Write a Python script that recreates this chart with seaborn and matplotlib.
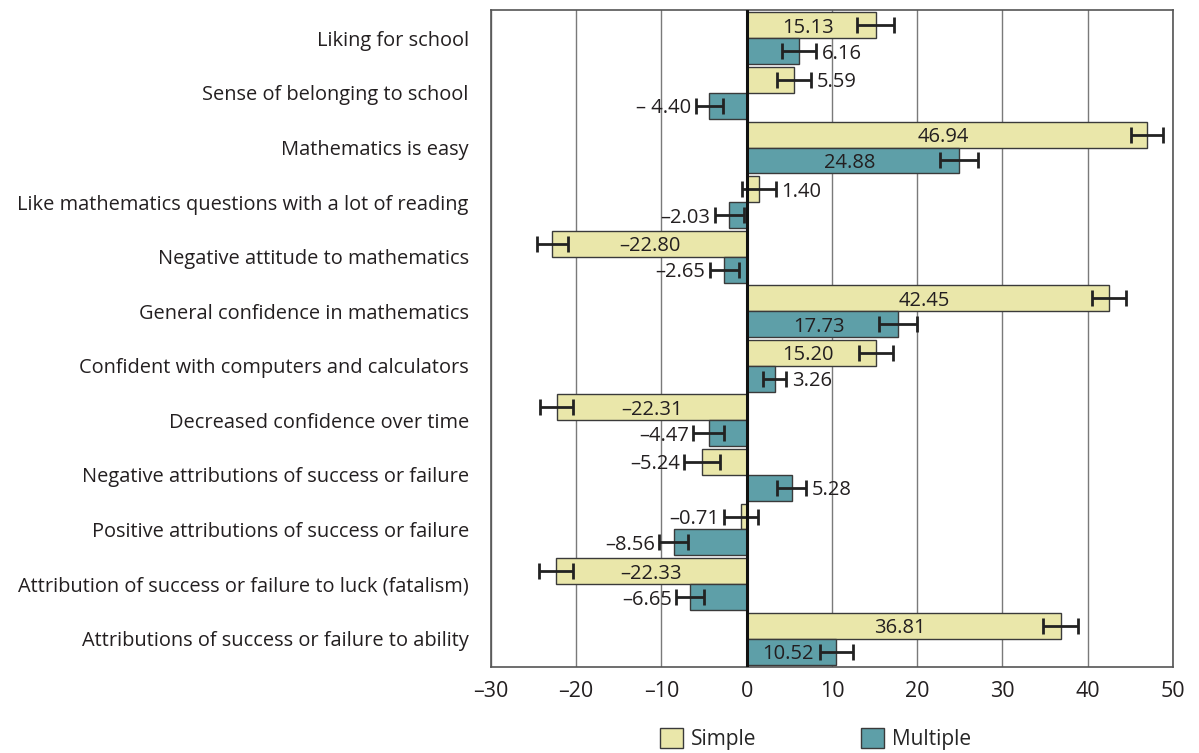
import pandas as pd
import matplotlib
matplotlib.use('Agg')
import matplotlib.pyplot as plt
import seaborn as sns
from matplotlib.patches import Patch


# ==============================
# DATA
# ==============================
CATEGORIES = [
    "Liking for school",
    "Sense of belonging to school",
    "Mathematics is easy",
    "Like mathematics questions with a lot of reading",
    "Negative attitude to mathematics",
    "General confidence in mathematics",
    "Confident with computers and calculators",
    "Decreased confidence over time",
    "Negative attributions of success or failure",
    "Positive attributions of success or failure",
    "Attribution of success or failure to luck (fatalism)",
    "Attributions of success or failure to ability",
]

SIMPLE = [15.13, 5.59, 46.94, 1.40, -22.80, 42.45, 15.20, -22.31, -5.24, -0.71, -22.33, 36.81]
MULTIPLE = [6.16, -4.40, 24.88, -2.03, -2.65, 17.73, 3.26, -4.47, 5.28, -8.56, -6.65, 10.52]

SIMPLE_ERR = [2.2, 2.0, 1.9, 2.0, 1.8, 2.0, 2.0, 1.9, 2.1, 2.0, 2.0, 2.0]
MULTIPLE_ERR = [2.0, 1.6, 2.2, 1.7, 1.7, 2.2, 1.4, 1.8, 1.7, 1.7, 1.6, 1.9]

# label text as printed (en dash for minus)
SIMPLE_TXT = ["15.13", "5.59", "46.94", "1.40", "–22.80", "42.45", "15.20",
              "–22.31", "–5.24", "–0.71", "–22.33", "36.81"]
MULTIPLE_TXT = ["6.16", "– 4.40", "24.88", "–2.03", "–2.65", "17.73", "3.26",
                "–4.47", "5.28", "–8.56", "–6.65", "10.52"]

SERIES = ["Simple", "Multiple"]
X_TICKS = [-30, -20, -10, 0, 10, 20, 30, 40, 50]
X_TICK_LABELS = ["–30", "–20", "–10", "0", "10", "20", "30", "40", "50"]

COLORS = {"Simple": "#EAE7AA", "Multiple": "#5E9FA8"}
EDGE = "#3a3a3a"
TEXT = "#231F20"


# ==============================
# BUILD TABLE
# ==============================
df = pd.DataFrame({
    "category": CATEGORIES * 2,
    "value": SIMPLE + MULTIPLE,
    "err": SIMPLE_ERR + MULTIPLE_ERR,
    "label": SIMPLE_TXT + MULTIPLE_TXT,
    "series": ["Simple"] * len(CATEGORIES) + ["Multiple"] * len(CATEGORIES),
})


# ==============================
# PLOT
# ==============================
sns.set_style("white")
plt.rcParams['font.family'] = ['Open Sans', 'DejaVu Sans']

fig = plt.figure(figsize=(11.99, 7.53), dpi=100)
ax = fig.add_axes([0.4095, 0.1142, 0.9783 - 0.4095, 0.9867 - 0.1142])

sns.barplot(data=df, y="category", x="value", hue="series", hue_order=SERIES,
            orient="h", palette=COLORS, saturation=1, width=0.95, dodge=True,
            edgecolor=EDGE, linewidth=1.0, errorbar=None, legend=False,
            ax=ax, zorder=3)

# error bars and value labels, positions from the drawn bars
for series, container in zip(SERIES, ax.containers):
    sub = df[df["series"] == series].reset_index(drop=True)
    for bar, (_, row) in zip(container.patches, sub.iterrows()):
        yc = bar.get_y() + bar.get_height() / 2
        v, e = row["value"], row["err"]
        ax.errorbar(v, yc, xerr=e, fmt="none", ecolor="#222222",
                    elinewidth=2, capsize=6, capthick=2, zorder=4)
        if abs(v) > 10:
            ax.text(v / 2 - 0.4 * (v > 0), yc, row["label"], ha="center",
                    va="center_baseline", fontsize=14.5, color=TEXT, zorder=5)
        elif v >= 0:
            ax.text(v + e + 0.6, yc, row["label"], ha="left", va="center_baseline",
                    fontsize=14.5, color=TEXT, zorder=5)
        else:
            ax.text(v - e - 0.5, yc, row["label"], ha="right", va="center_baseline",
                    fontsize=14.5, color=TEXT, zorder=5)

ax.set_xlim(-30, 50)
ax.set_ylim(len(CATEGORIES) - 0.5 + 0.02, -0.5 - 0.02)
ax.set_xticks(X_TICKS)
ax.set_xticklabels(X_TICK_LABELS, fontsize=15.5, color=TEXT)
ax.tick_params(axis="x", length=0, pad=10)
ax.tick_params(axis="y", length=0, pad=16, labelsize=14.4, labelcolor=TEXT)
for lbl in ax.get_yticklabels():
    lbl.set_verticalalignment("center_baseline")
ax.set_xlabel("")
ax.set_ylabel("")

ax.grid(axis="x", color="#7a7a7a", linewidth=1.0, zorder=0)
ax.grid(axis="y", visible=False)
ax.axvline(0, color="#111111", linewidth=2.2, zorder=6)
for s in ax.spines.values():
    s.set_color("#555555")
    s.set_linewidth(1.2)

handles = [Patch(facecolor=COLORS[s], edgecolor=EDGE, label=s) for s in SERIES]
fig.legend(handles=handles, loc="center", bbox_to_anchor=(0.68, 0.018),
           ncol=2, frameon=False, fontsize=15, handlelength=1.1,
           handleheight=1.1, columnspacing=5, handletextpad=0.4)

plt.savefig("out.png", dpi=100)
